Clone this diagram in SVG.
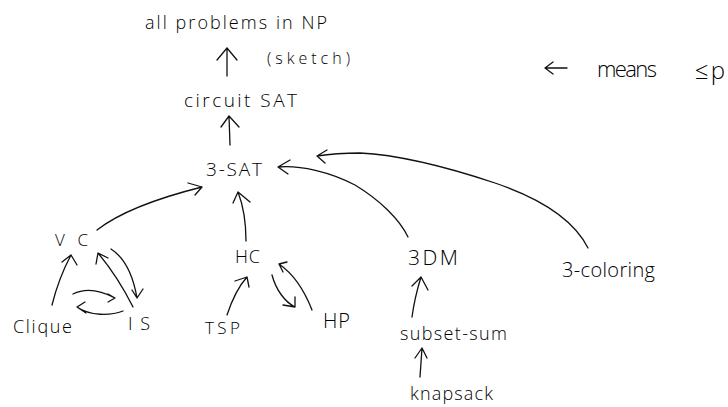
<svg xmlns="http://www.w3.org/2000/svg" width="728" height="407" viewBox="0 0 728 407">
  <style>
    .lbl { font-family: "Open Sans", "DejaVu Sans", sans-serif; font-weight: 300; fill: #000; }
    .ln { fill: none; stroke: #111; stroke-width: 1.3; stroke-linecap: round; stroke-linejoin: round; }
  </style>
  <rect width="728" height="407" fill="#fff"/>

  <!-- nodes -->
  <g id="np"><text class="lbl" x="145" y="29" font-size="18" textLength="182" lengthAdjust="spacing">all problems in NP</text></g>
  <g id="sketch-note"><text class="lbl" x="267" y="64" font-size="16" textLength="83" lengthAdjust="spacing">(sketch)</text></g>
  <g id="circuit-sat"><text class="lbl" x="184" y="107" font-size="19" textLength="113" lengthAdjust="spacing">circuit SAT</text></g>
  <g id="three-sat"><text class="lbl" x="206" y="176" font-size="19" textLength="56" lengthAdjust="spacing">3-SAT</text></g>
  <g id="vc"><text class="lbl" x="55" y="246" font-size="17" textLength="33" lengthAdjust="spacing">VC</text></g>
  <g id="clique"><text class="lbl" x="13" y="333" font-size="18" textLength="59" lengthAdjust="spacing">Clique</text></g>
  <g id="is"><text class="lbl" x="128" y="330" font-size="18" textLength="22" lengthAdjust="spacing">IS</text></g>
  <g id="hc"><text class="lbl" x="235" y="263" font-size="18" textLength="25" lengthAdjust="spacing">HC</text></g>
  <g id="tsp"><text class="lbl" x="205" y="334" font-size="17" textLength="35" lengthAdjust="spacing">TSP</text></g>
  <g id="hp"><text class="lbl" x="323" y="328" font-size="20" textLength="27" lengthAdjust="spacing">HP</text></g>
  <g id="three-dm"><text class="lbl" x="408" y="265" font-size="21" textLength="50" lengthAdjust="spacing">3DM</text></g>
  <g id="three-coloring"><text class="lbl" x="562" y="277" font-size="20" textLength="93" lengthAdjust="spacing">3-coloring</text></g>
  <g id="subset-sum"><text class="lbl" x="400" y="340" font-size="18" textLength="107" lengthAdjust="spacing">subset-sum</text></g>
  <g id="knapsack"><text class="lbl" x="410" y="400" font-size="18" textLength="83" lengthAdjust="spacing">knapsack</text></g>

  <!-- legend -->
  <g id="legend">
    <path class="ln" d="M545,68 L567,68 M553,62 L545,68 L553,74"/>
    <text class="lbl" x="597" y="77" font-size="22" textLength="60" lengthAdjust="spacing">means</text>
    <text class="lbl" x="695" y="79" font-size="24" textLength="30" lengthAdjust="spacing">≤p</text>
  </g>

  <!-- connectors: each arrow points at the problem it reduces to -->
  <g id="connectors">
    <path class="ln" d="M227,76 L227,48 M217,60 L227,48 L237,60"/>
    <path class="ln" d="M230,145 L229,116 M221,127 L229,116 L239,127"/>
    <path class="ln" d="M97,230 C115,216 150,200 202,187 M188,183 L202,187 L195,195"/>
    <path class="ln" d="M246,241 C246,225 243,205 238,192 M233,203 L238,192 L250,202"/>
    <path class="ln" d="M408,237 C400,220 380,200 355,185 C330,172 300,165 278,167 M290,160 L278,167 L288,174"/>
    <path class="ln" d="M588,248 C575,222 545,200 495,183 C450,168 400,155 360,153 C345,153 330,154 317,156 M327,150 L317,156 L325,163"/>
    <path class="ln" d="M52,305 C57,285 63,270 71,255 M62,262 L71,255 L77,265"/>
    <path class="ln" d="M133,307 C122,285 108,265 98,253 M96,264 L98,253 L108,258"/>
    <path class="ln" d="M111,249 C125,258 133,275 137,298 M132,290 L137,298 L143,289"/>
    <path class="ln" d="M73,294 C85,288 100,290 115,298 M108,294 L115,298 L108,302"/>
    <path class="ln" d="M123,311 C110,316 90,316 77,307 M85,302 L77,307 L86,313"/>
    <path class="ln" d="M227,315 C232,300 238,287 247,277 M235,281 L247,277 L249,287"/>
    <path class="ln" d="M272,275 C276,290 285,302 295,307 M283,305 L295,307 L295,297"/>
    <path class="ln" d="M312,310 C305,292 295,275 279,264 M287,262 L279,264 L283,272"/>
    <path class="ln" d="M412,317 C414,302 417,290 421,277 M412,286 L421,277 L428,290"/>
    <path class="ln" d="M420,377 L422,348 M415,358 L422,348 L427,358"/>
  </g>
</svg>
